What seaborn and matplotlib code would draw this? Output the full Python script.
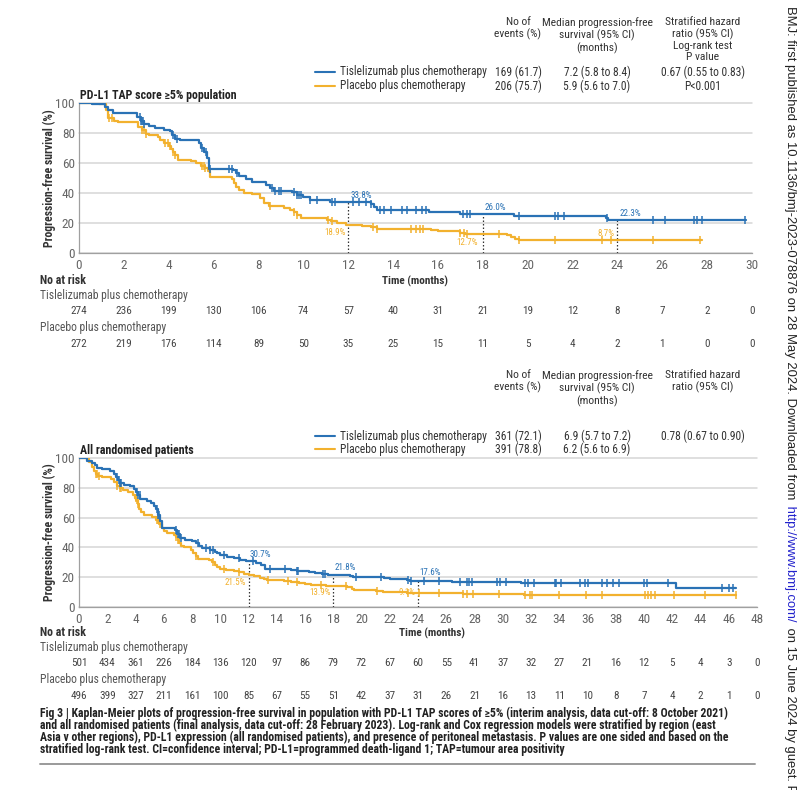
import numpy as np
import pandas as pd
import matplotlib
matplotlib.use("Agg")
import matplotlib.pyplot as plt
import seaborn as sns
from matplotlib import font_manager as fm
from matplotlib.lines import Line2D
from matplotlib.transforms import blended_transform_factory

# ---------------- data ----------------
BLUE_LABEL = "Tislelizumab plus chemotherapy"
GOLD_LABEL = "Placebo plus chemotherapy"

# Panel A: PD-L1 TAP >=5% (step times, survival %)
a_tis_t = [0, 0.6, 1.15, 1.3, 1.5, 2.6, 2.75, 2.9, 3.1, 3.4, 3.8, 4.05, 4.15, 4.3, 4.5, 5.35, 5.45, 5.55,
           5.7, 5.8, 6.85, 7.0, 7.15, 7.45, 7.7, 8.35, 8.5, 8.7, 9.5, 9.7, 10.0, 10.3, 11.2, 13.0, 13.15,
           13.3, 15.6, 17.0, 19.4, 23.5, 23.6, 29.75]
a_tis_s = [100, 99, 97, 95, 93, 90.5, 88, 86, 84.5, 83, 82, 81, 78.5, 76, 75, 73, 70, 67,
           63, 56, 55, 53, 51, 49, 47.5, 45, 43, 41.5, 40.5, 38.5, 37, 35.5, 33.8, 32.5, 30.5,
           28.5, 27.3, 26.0, 24.4, 23.5, 22.3, 22.3]
a_tis_cens = [2.7, 2.75, 2.8, 2.85, 2.9, 4.2, 4.35, 5.5, 5.65, 5.85, 6.7, 6.8, 7.05, 8.6, 8.75, 8.9, 9.0,
              9.6, 9.7, 9.8, 9.9, 10.3, 10.6, 11.3, 11.4, 12.2, 12.5, 12.8, 13.0, 13.4, 13.6, 13.9, 14.4,
              14.6, 15.0, 15.3, 15.45, 17.1, 17.3, 17.45, 19.6, 21.2, 21.35, 21.6, 23.55, 25.6, 26.1,
              27.4, 27.55, 27.75, 29.7]
a_pla_t = [0, 0.9, 1.2, 1.3, 1.55, 1.75, 2.65, 2.8, 3.0, 3.1, 3.5, 3.6, 3.8, 4.0, 4.1, 4.2, 4.3, 4.4,
           5.0, 5.2, 5.45, 5.6, 5.75, 5.85, 6.8, 6.9, 7.0, 7.15, 7.35, 7.7, 8.05, 8.25, 8.45, 9.15,
           9.4, 9.6, 9.7, 9.9, 11.05, 11.25, 11.5, 11.9, 12.6, 13.0, 13.3, 15.7, 16.0, 17.0, 17.2,
           19.1, 19.25, 19.45, 19.6, 27.75]
a_pla_s = [100, 99, 95, 90, 88, 87, 84, 82, 79.5, 78.5, 77, 75.5, 73.5, 71, 69, 67, 65, 62,
           61, 60, 58, 56.5, 54.5, 50.5, 49, 46.5, 44, 42, 40, 39, 36.5, 33.5, 31, 29.8,
           28.5, 27, 25.5, 23, 22, 21, 20.2, 18.9, 18.3, 17.3, 16.2, 15.0, 14.5, 13.5, 12.7,
           12.0, 10.5, 9.5, 8.7, 8.7]
a_pla_cens = [1.35, 1.45, 2.8, 2.9, 3.0, 3.85, 3.95, 4.05, 4.2, 4.3, 5.5, 5.55, 5.6, 8.5, 9.6, 9.7,
              11.1, 11.3, 13.1, 13.3, 14.8, 15.0, 15.2, 15.35, 17.0, 17.15, 17.3, 18.7, 19.6, 21.2,
              23.3, 23.7, 25.6, 27.7]
a_ticks = list(range(0, 31, 2))
a_risk_tis = [274, 236, 199, 130, 106, 74, 57, 40, 31, 21, 19, 12, 8, 7, 2, 0]
a_risk_pla = [272, 219, 176, 114, 89, 50, 35, 25, 15, 11, 5, 4, 2, 1, 0, 0]
a_mark_t = [12, 18, 24]
a_mark_tis = ["33.8%", "26.0%", "22.3%"]
a_mark_pla = ["18.9%", "12.7%", "8.7%"]

# Panel B: all randomised patients
b_tis_t = [0, 0.6, 0.9, 1.15, 1.3, 1.6, 2.2, 2.5, 2.6, 2.75, 2.9, 3.2, 3.6, 3.9, 4.0, 4.15, 4.35,
           4.8, 5.1, 5.3, 5.45, 5.6, 5.7, 5.85, 6.8, 6.95, 7.15, 7.5, 8.0, 8.3, 8.5, 8.7, 9.3, 9.6,
           9.8, 10.0, 10.5, 11.0, 11.4, 11.8, 12.5, 12.9, 13.2, 15.0, 15.4, 16.3, 16.7, 17.2, 17.6,
           19.2, 19.4, 21.6, 22.0, 23.2, 23.4, 26.4, 31.3, 42.3, 46.5]
b_tis_s = [100, 98, 96.5, 95, 93.5, 92.5, 91, 89, 87, 85, 83.5, 82, 81, 79.5, 77.5, 75, 72.5,
           71, 69.8, 68, 65.5, 62, 58, 53, 51.5, 49, 46.5, 45, 44, 42.7, 41, 39.3, 38.3, 37,
           36, 34.8, 33.8, 32.8, 31.8, 30.7, 29.8, 28, 25.8, 25.0, 24.2, 23.6, 23.0, 22.4, 21.8,
           20.8, 19.8, 19.2, 18.5, 18.1, 17.6, 17.0, 15.8, 12.8, 12.8]
b_tis_cens = [2.7, 2.8, 2.9, 3.0, 4.1, 4.2, 4.3, 5.5, 5.6, 5.65, 6.9, 7.0, 7.1, 7.2, 8.4, 9.0, 9.3,
              9.5, 10.3, 11.3, 12.3, 13.5, 14.6, 15.4, 15.5, 17.3, 17.4, 19.6, 21.4, 23.3, 23.5,
              24.4, 25.5, 27.0, 27.5, 27.6, 27.8, 29.6, 29.8, 30.2, 31.6, 31.8, 32.2, 33.7, 33.8,
              34.1, 35.5, 35.8, 36.0, 37.0, 37.4, 37.8, 38.2, 40.0, 40.2, 41.7, 45.5, 46.0, 46.3]
b_pla_t = [0, 0.7, 0.95, 1.05, 1.2, 1.35, 1.6, 2.3, 2.5, 2.7, 2.9, 3.1, 3.5, 3.8, 3.95, 4.05, 4.15,
           4.25, 4.4, 4.6, 5.2, 5.45, 5.65, 5.85, 6.0, 6.25, 6.75, 6.9, 7.0, 7.1, 7.25, 7.4, 7.9,
           8.1, 8.25, 8.4, 9.2, 9.4, 9.6, 9.8, 10.0, 10.4, 11.0, 11.3, 11.7, 12.0, 12.4, 12.8,
           13.1, 13.3, 14.5, 15.0, 15.6, 16.0, 16.4, 17.0, 17.5, 19.0, 19.3, 19.5, 21.0, 21.5,
           22.5, 23.2, 23.8, 27.2, 31.5, 46.5]
b_pla_s = [100, 97, 94, 91.5, 89.5, 88, 87, 86, 84, 81.5, 80, 78.5, 77, 75, 73, 71.5, 69,
           66, 63.5, 62, 60.5, 58.4, 55.5, 52.8, 51, 50, 48.5, 47, 45, 43, 41, 40.3, 38.5,
           36, 34, 32.5, 31.5, 30, 28.5, 27, 25.8, 25, 24.2, 23.3, 22.3, 21.5, 20.6, 19.7,
           18.7, 17.8, 17.3, 16.8, 16.2, 15.6, 15.0, 14.5, 13.9, 13.3, 12.3, 11.3, 10.8, 10.3,
           9.8, 9.4, 9.1, 8.6, 8.0, 8.0]
b_pla_cens = [1.2, 1.3, 1.4, 2.7, 2.9, 3.0, 4.0, 4.1, 4.2, 5.5, 5.6, 5.7, 6.9, 7.0, 8.3, 9.5, 10.3,
              11.3, 13.4, 14.8, 15.4, 17.1, 18.9, 21.1, 23.3, 24.1, 25.5, 27.2, 27.5, 27.9, 29.7,
              31.6, 31.9, 32.1, 34.0, 35.9, 37.0, 40.1, 40.3, 40.5, 40.8, 42.1, 44.3, 46.5]
b_ticks = list(range(0, 49, 2))
b_risk_tis = [501, 434, 361, 226, 184, 136, 120, 97, 86, 79, 72, 67, 60, 55, 41, 37, 32, 27, 21,
              16, 12, 5, 4, 3, 0]
b_risk_pla = [496, 399, 327, 211, 161, 100, 85, 67, 55, 51, 42, 37, 31, 26, 21, 16, 13, 11, 10,
              8, 7, 4, 2, 1, 0]
b_mark_t = [12, 18, 24]
b_mark_tis = ["30.7%", "21.8%", "17.6%"]
b_mark_pla = ["21.5%", "13.9%", "9.1%"]

a_table = [["169 (61.7)", "7.2 (5.8 to 8.4)", "0.67 (0.55 to 0.83)"],
           ["206 (75.7)", "5.9 (5.6 to 7.0)", "P<0.001"]]
b_table = [["361 (72.1)", "6.9 (5.7 to 7.2)", "0.78 (0.67 to 0.90)"],
           ["391 (78.8)", "6.2 (5.6 to 6.9)", ""]]
a_head = ["No of\nevents (%)", "Median progression-free\nsurvival (95% CI)\n(months)",
          "Stratified hazard\nratio (95% CI)\nLog-rank test\nP value"]
b_head = ["No of\nevents (%)", "Median progression-free\nsurvival (95% CI)\n(months)",
          "Stratified hazard\nratio (95% CI)"]

caption = [
    "Fig 3 | Kaplan-Meier plots of progression-free survival in population with PD-L1 TAP scores of \u22655% (interim analysis, data cut-off: 8 October 2021)",
    "and all randomised patients (final analysis, data cut-off: 28 February 2023). Log-rank and Cox regression models were stratified by region (east",
    "Asia v other regions), PD-L1 expression (all randomised patients), and presence of peritoneal metastasis. P values are one sided and based on the",
    "stratified log-rank test. CI=confidence interval; PD-L1=programmed death-ligand 1; TAP=tumour area positivity",
]

# ---------------- fonts ----------------
sns.set_theme(style="white")
fl = fm.fontManager.ttflist
names = {f.name for f in fl}


def pick_font():
    for n in ["Liberation Sans Narrow", "Roboto Condensed", "Open Sans Condensed",
              "DejaVu Sans Condensed", "Noto Sans Condensed"]:
        if n in names:
            return n, "normal"
    for n in ["DejaVu Sans", "Noto Sans", "Open Sans", "Roboto"]:
        if any(f.name == n and str(f.stretch) in ("condensed", "semi-condensed", "extra-condensed")
               for f in fl):
            return n, "condensed"
    for n in ["Roboto", "Liberation Sans"]:
        if n in names:
            return n, "normal"
    return "DejaVu Sans", "normal"


NARROW, STRETCH = pick_font()
SANS = "Liberation Sans" if "Liberation Sans" in names else "DejaVu Sans"
plt.rcParams["font.family"] = [NARROW, "DejaVu Sans"]
plt.rcParams["font.stretch"] = STRETCH

BLUE = "#2a72b5"
GOLD = "#f2b12e"
GRID = "#d6d6d6"
AXC = "#a0a0a0"
TXT = "#333333"
TICKC = "#666666"

W, H = 800, 790
fig = plt.figure(figsize=(8, 7.9), dpi=100)
fig.patch.set_facecolor("white")
R = fig.canvas.get_renderer()


def fit(text, target, weight="normal"):
    t = fig.text(0, 0, text, fontsize=10, fontweight=weight)
    w = t.get_window_extent(renderer=R).width
    t.remove()
    return 10.0 * target / w


FS_LEG = fit(BLUE_LABEL, 146)
FS_HEAD = fit("Median progression-free", 110)
FS_TITLE = fit("PD-L1 TAP score \u22655% population", 156, "bold")
FS_YLAB = fit("Progression-free survival (%)", 139, "bold")
FS_RLAB = fit(BLUE_LABEL, 148)
FS_NAR = fit("No at risk", 46, "bold")
FS_TIME = fit("Time (months)", 66, "bold")
FS_CAP = fit(caption[0], 690, "bold")
FS_TICK = FS_LEG * 1.15
FS_RISK = FS_LEG * 0.97
FS_PCT = FS_LEG * 0.78


def fxy(x, y):
    return x / W, 1 - y / H


def ftext(x, y, s, **kw):
    kw.setdefault("va", "center")
    return fig.text(x / W, 1 - y / H, s, **kw)


def step_value(t_arr, s_arr, t):
    idx = np.searchsorted(np.asarray(t_arr), t, side="right") - 1
    return np.asarray(s_arr)[np.clip(idx, 0, len(s_arr) - 1)]


def km_panel(rect, xmax, ticks, tis_t, tis_s, tis_c, pla_t, pla_s, pla_c,
             mark_t, mark_tis, mark_pla, tis_off, pla_off):
    ax = fig.add_axes(rect)
    df_t = pd.DataFrame({"t": tis_t, "s": tis_s})
    df_p = pd.DataFrame({"t": pla_t, "s": pla_s})
    sns.lineplot(data=df_p, x="t", y="s", drawstyle="steps-post", color=GOLD, lw=1.6,
                 estimator=None, legend=False, ax=ax, zorder=3)
    sns.lineplot(data=df_t, x="t", y="s", drawstyle="steps-post", color=BLUE, lw=1.6,
                 estimator=None, legend=False, ax=ax, zorder=4)
    sns.scatterplot(x=pla_c, y=step_value(pla_t, pla_s, pla_c), marker="|", s=28,
                    color=GOLD, linewidth=1.1, ax=ax, zorder=3, legend=False)
    sns.scatterplot(x=tis_c, y=step_value(tis_t, tis_s, tis_c), marker="|", s=28,
                    color=BLUE, linewidth=1.1, ax=ax, zorder=4, legend=False)
    for t, lt, lp, (dxt, dyt), (dxp, dyp) in zip(mark_t, mark_tis, mark_pla, tis_off, pla_off):
        st = step_value(tis_t, tis_s, t)
        sp = step_value(pla_t, pla_s, t)
        ax.plot([t, t], [0, st], ls=(0, (1.2, 1.6)), color="#333333", lw=0.9, zorder=2)
        ax.text(t + dxt, st + dyt, lt, color=BLUE, fontsize=FS_PCT, ha="left", va="center")
        ax.text(t + dxp, sp + dyp, lp, color=GOLD, fontsize=FS_PCT, ha="right", va="center")
    ax.set_xlim(0, xmax)
    ax.set_ylim(0, 100)
    ax.set_xticks(ticks)
    ax.set_yticks([0, 20, 40, 60, 80, 100])
    ax.set_xlabel("")
    ax.set_ylabel("Progression-free survival (%)", fontsize=FS_YLAB, fontweight="bold", color=TXT)
    ax.yaxis.set_label_coords(-(79 - 56) / (rect[2] * W), 0.5)
    for sp_name in ["top", "right"]:
        ax.spines[sp_name].set_visible(False)
    for sp_name in ["left", "bottom"]:
        ax.spines[sp_name].set_color(AXC)
        ax.spines[sp_name].set_linewidth(0.9)
    ax.yaxis.grid(True, color=GRID, lw=1.1)
    ax.xaxis.grid(False)
    ax.set_axisbelow(True)
    for gl in ax.get_ygridlines():
        gl.set_clip_on(False)
    ax.tick_params(axis="x", length=3, width=0.8, color=AXC, labelsize=FS_TICK, labelcolor=TICKC, pad=1.5)
    ax.tick_params(axis="y", length=0, labelsize=FS_TICK, labelcolor=TICKC, pad=3)
    ax.set_facecolor("white")
    return ax


def risk_table(ax, ticks, r_tis, r_pla, y0, time_x):
    tr = blended_transform_factory(ax.transData, fig.transFigure)
    ftext(40, y0, "No at risk", fontsize=FS_NAR, fontweight="bold", color=TXT)
    ftext(time_x, y0, "Time (months)", fontsize=FS_TIME, fontweight="bold", color=TXT, ha="center")
    ftext(40, y0 + 15, BLUE_LABEL, fontsize=FS_RLAB, color="#555555")
    ftext(40, y0 + 47, GOLD_LABEL, fontsize=FS_RLAB, color="#555555")
    for t, a, b in zip(ticks, r_tis, r_pla):
        ax.text(t, 1 - (y0 + 30) / H, str(a), transform=tr, ha="center", va="center",
                fontsize=FS_RISK, color="#444444")
        ax.text(t, 1 - (y0 + 63) / H, str(b), transform=tr, ha="center", va="center",
                fontsize=FS_RISK, color="#444444")


def legend_table(head, rows, y_head, y_rows):
    cols = [518, 597, 703]
    for x, h in zip(cols, head):
        ftext(x, y_head, h, fontsize=FS_HEAD, color=TXT, ha="center", va="top", linespacing=1.15)
    for (y, lab, col, row) in zip(y_rows, [BLUE_LABEL, GOLD_LABEL], [BLUE, GOLD], rows):
        x0, y0 = fxy(315, y)
        x1, _ = fxy(335, y)
        fig.add_artist(Line2D([x0, x1], [y0, y0], color=col, lw=1.5))
        ftext(340, y, lab, fontsize=FS_LEG, color=TXT)
        for x, v in zip(cols, row):
            ftext(x, y, v, fontsize=FS_LEG, color=TXT, ha="center")


# ---------------- panel A ----------------
axA = km_panel([79 / W, 1 - 253 / H, (752 - 79) / W, (253 - 103) / H], 30, a_ticks,
               a_tis_t, a_tis_s, a_tis_cens, a_pla_t, a_pla_s, a_pla_cens,
               a_mark_t, a_mark_tis, a_mark_pla,
               [(0.1, 4.3), (0.1, 4.2), (0.1, 3.9)], [(-0.1, -5.0), (-0.2, -5.8), (-0.15, 4.6)])
ftext(80, 95, "PD-L1 TAP score \u22655% population", fontsize=FS_TITLE, fontweight="bold", color="#222222")
legend_table(a_head, a_table, 17, [72, 86])
risk_table(axA, a_ticks, a_risk_tis, a_risk_pla, 281, 415)

# ---------------- panel B ----------------
axB = km_panel([79 / W, 1 - 607 / H, (757 - 79) / W, (607 - 458) / H], 48, b_ticks,
               b_tis_t, b_tis_s, b_tis_cens, b_pla_t, b_pla_s, b_pla_cens,
               b_mark_t, b_mark_tis, b_mark_pla,
               [(0.1, 4.2), (0.1, 4.5), (0.1, 5.5)], [(-0.2, -4.9), (-0.2, -4.5), (-0.2, 0.3)])
ftext(80, 450, "All randomised patients", fontsize=FS_TITLE, fontweight="bold", color="#222222")
legend_table(b_head, b_table, 370, [436, 449])
risk_table(axB, b_ticks, b_risk_tis, b_risk_pla, 633, 432)

# ---------------- caption (one multi-line text) ----------------
cap_px = FS_CAP * 100 / 72.0
pitch = 11.8
ls = pitch / (cap_px * 1.17)
ftext(40, 707, "\n".join(caption), fontsize=FS_CAP, fontweight="bold", color="#222222",
      va="top", linespacing=ls)
fig.add_artist(Line2D([40 / W, 755 / W], [1 - 764 / H, 1 - 764 / H], color="#9a9a9a", lw=1.4))

# ---------------- vertical side note ----------------
fig.canvas.draw()
renderer = fig.canvas.get_renderer()
side = [("BMJ: first published as 10.1136/bmj-2023-078876 on 28 May 2024. Downloaded from", "#222222"),
        (" http://www.bmj.com/", "#2222cc"),
        (" on 15 June 2024 by guest. Protected by copyright.", "#222222")]
yy = 1 - 6 / H
for s, c in side:
    t = fig.text(790 / W, yy, s, rotation=-90, rotation_mode="anchor", ha="left", va="center",
                 color=c, fontsize=9.4, family=[SANS, "DejaVu Sans"], stretch="normal")
    bb = t.get_window_extent(renderer=renderer)
    yy = bb.y0 / fig.bbox.height - 2.5 / H

fig.savefig("out.png", dpi=100, facecolor="white")
